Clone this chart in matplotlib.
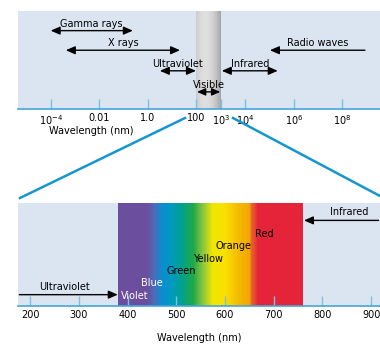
import numpy as np
import matplotlib
matplotlib.use("Agg")
from matplotlib import pyplot as plt
from matplotlib.colors import LinearSegmentedColormap
from matplotlib.lines import Line2D

# 上段：電磁波スペクトル（波長 nm, 対数軸）
top_ticks = [1e-4, 1e-2, 1.0, 100, 1e3, 1e4, 1e6, 1e8]
top_labels = ["10$^{-4}$", "0.01", "1.0", "100", "10$^{3}$", "10$^{4}$", "10$^{6}$", "10$^{8}$"]

# 帯の名前, 始点, 終点, 文字の高さ, 矢印の向き
band_names = ["Gamma rays", "X rays", "Ultraviolet", "Infrared", "Radio waves"]
band_start = [1e-4, 4.2e-4, 3.1, 1.1e3, 8.5e8]
band_end = [0.24, 2.1e1, 95, 2.2e5, 1.05e5]
band_y = [0.80, 0.60, 0.39, 0.39, 0.60]
band_style = ["<|-|>", "<|-|>", "<|-|>", "<|-|>", "-|>"]
visible_range = [100, 1000]

# 下段：可視光
bottom_ticks = [200, 300, 400, 500, 600, 700, 800, 900]
spectrum_nm = [380, 440, 455, 470, 490, 510, 535, 555, 575, 600, 630, 650, 656, 668, 760]
spectrum_col = ["#6b4f9e", "#6b4f9e", "#4a6cb8", "#0a8ed0", "#0099c0", "#00a090",
                "#20a848", "#8cc63e", "#f0e600", "#f8e000", "#f5b800", "#f3a600",
                "#e8602a", "#e5243a", "#e5243a"]
color_names = ["Violet", "Blue", "Green", "Yellow", "Orange", "Red"]
color_x = [415, 450, 510, 565, 617, 680]
color_y = [0.10, 0.22, 0.34, 0.46, 0.58, 0.70]
color_text = ["white", "white", "black", "black", "black", "black"]

bg = "#dae5f1"
axis_blue = "#45a6d8"
tick_blue = "#7cc0e6"
line_blue = "#1696cf"

fig = plt.figure(figsize=(3.8, 3.45), dpi=100)

# 上段
ax1 = fig.add_axes([0.047, 0.684, 0.953, 0.284])
ax1.set_xscale("log")
ax1.set_xlim(10 ** -5.35, 10 ** 9.55)
ax1.set_ylim(0, 1)
ax1.set_facecolor(bg)

# 可視光の灰色の帯（グラデーション）
edges = np.logspace(np.log10(visible_range[0]), np.log10(visible_range[1]), 41)
t = np.linspace(-1, 1, 40)
shade = 0.87 - 0.13 * (t + 0.3) ** 2
ax1.pcolormesh(edges, [0, 1], shade[np.newaxis, :], cmap="gray", vmin=0, vmax=1,
               shading="flat", zorder=1)

for name, x0, x1, yy, st in zip(band_names, band_start, band_end, band_y, band_style):
    ax1.annotate("", xy=(x1, yy), xytext=(x0, yy),
                 arrowprops=dict(arrowstyle=st + ",head_length=0.55,head_width=0.24",
                                 color="black", lw=1.0, shrinkA=0, shrinkB=0), zorder=3)
    xm = np.sqrt(x0 * x1)
    ax1.text(xm, yy + 0.02, name, ha="center", va="bottom", fontsize=7, zorder=3)

ax1.annotate("", xy=(visible_range[1] * 0.95, 0.175), xytext=(visible_range[0] * 1.05, 0.175),
             arrowprops=dict(arrowstyle="<|-|>,head_length=0.5,head_width=0.22",
                             color="black", lw=1.0, shrinkA=0, shrinkB=0), zorder=3)
ax1.text(np.sqrt(visible_range[0] * visible_range[1]), 0.195, "Visible",
         ha="center", va="bottom", fontsize=7, zorder=3)

ax1.set_xticks(top_ticks)
ax1.set_xticklabels(top_labels)
ax1.minorticks_off()
ax1.set_yticks([])
for s in ["top", "left", "right"]:
    ax1.spines[s].set_visible(False)
ax1.spines["bottom"].set_color(axis_blue)
ax1.spines["bottom"].set_linewidth(1.2)
ax1.tick_params(axis="x", direction="in", length=7, width=1, color=tick_blue,
                labelsize=7, pad=3)
ax1.text(10 ** -4.05, -0.17, "Wavelength (nm)", ha="left", va="top", fontsize=7,
         transform=ax1.transData, clip_on=False)

# 下段
ax2 = fig.add_axes([0.047, 0.113, 0.953, 0.299])
ax2.set_xlim(175, 918)
ax2.set_ylim(0, 1)
ax2.set_facecolor(bg)

cmap = LinearSegmentedColormap.from_list(
    "spec", [((w - spectrum_nm[0]) / (spectrum_nm[-1] - spectrum_nm[0]), c)
             for w, c in zip(spectrum_nm, spectrum_col)])
nm = np.linspace(spectrum_nm[0], spectrum_nm[-1], 400)
ax2.pcolormesh(nm, [0, 1], ((nm[:-1] + nm[1:]) / 2)[np.newaxis, :], cmap=cmap,
               vmin=spectrum_nm[0], vmax=spectrum_nm[-1], shading="flat", zorder=1)

for name, xx, yy, c in zip(color_names, color_x, color_y, color_text):
    ax2.text(xx, yy, name, ha="center", va="center", fontsize=7, color=c, zorder=3)

ax2.annotate("", xy=(spectrum_nm[0], 0.11), xytext=(178, 0.11),
             arrowprops=dict(arrowstyle="-|>,head_length=0.55,head_width=0.24",
                             color="black", lw=1.0, shrinkA=0, shrinkB=0), zorder=3)
ax2.text(270, 0.14, "Ultraviolet", ha="center", va="bottom", fontsize=7)
ax2.annotate("", xy=(762, 0.83), xytext=(915, 0.83),
             arrowprops=dict(arrowstyle="-|>,head_length=0.55,head_width=0.24",
                             color="black", lw=1.0, shrinkA=0, shrinkB=0), zorder=3)
ax2.text(855, 0.86, "Infrared", ha="center", va="bottom", fontsize=7)

ax2.set_xticks(bottom_ticks)
ax2.set_yticks([])
for s in ["top", "left", "right"]:
    ax2.spines[s].set_visible(False)
ax2.spines["bottom"].set_color(axis_blue)
ax2.spines["bottom"].set_linewidth(1.2)
ax2.tick_params(axis="x", direction="in", length=7, width=1, color=tick_blue,
                labelsize=7, pad=3)
for tk in ax2.xaxis.get_major_ticks():
    tk.tick1line.set_zorder(4)
ax2.set_xlabel("Wavelength (nm)", fontsize=7, labelpad=9)

# 上下をつなぐ青い線（図の座標）
fig.add_artist(Line2D([185 / 380, 20 / 380], [1 - 118 / 345, 1 - 198 / 345],
                      color=line_blue, lw=1.8))
fig.add_artist(Line2D([233 / 380, 380 / 380], [1 - 118 / 345, 1 - 196 / 345],
                      color=line_blue, lw=1.8))

fig.savefig("out.png", dpi=100, facecolor="white")
